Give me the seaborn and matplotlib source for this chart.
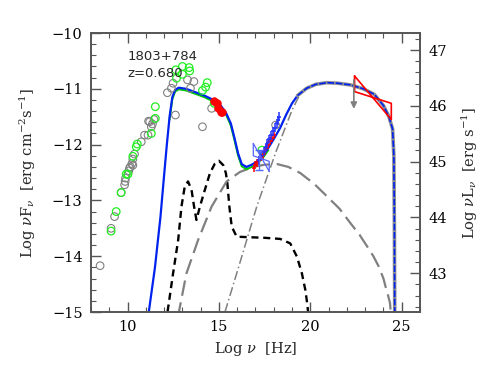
import numpy as np
import matplotlib
matplotlib.use("Agg")
import matplotlib.pyplot as plt
from matplotlib.ticker import MultipleLocator
import seaborn as sns

##### DATA
# total model (blue)
tot_x = [11.12, 11.5, 11.8, 12.0, 12.15, 12.3, 12.45, 12.6, 12.8, 13.2, 13.7, 14.2, 14.7,
         15.1, 15.4, 15.65, 15.85, 16.05, 16.25, 16.5, 16.8, 17.1, 17.4, 17.7, 18.0, 18.35,
         18.7, 19.0, 19.3, 19.8, 20.3, 20.9, 21.5, 22.2, 22.9, 23.5, 24.0, 24.3, 24.5, 24.57,
         24.6, 24.62]
tot_y = [-15.1, -14.2, -13.3, -12.55, -12.0, -11.5, -11.15, -11.02, -10.98, -11.0, -11.06,
         -11.12, -11.2, -11.3, -11.44, -11.62, -11.88, -12.16, -12.35, -12.4, -12.36, -12.3,
         -12.2, -12.06, -11.9, -11.7, -11.45, -11.26, -11.12, -10.99, -10.92, -10.89, -10.9,
         -10.93, -11.0, -11.1, -11.3, -11.5, -11.72, -12.2, -13.5, -15.2]
# second model (green), just below the blue one
grn_x = [12.3, 12.45, 12.6, 12.8, 13.2, 13.7, 14.2, 14.7, 15.1, 15.4, 15.65, 15.85, 16.05,
         16.25, 16.5, 16.8, 17.1, 17.4, 17.7]
grn_y = [-11.55, -11.19, -11.05, -11.01, -11.03, -11.09, -11.15, -11.23, -11.33, -11.47,
         -11.66, -11.92, -12.2, -12.39, -12.44, -12.4, -12.34, -12.24, -12.1]
# external Compton (grey dash-dot)
ec_x = [15.33, 15.97, 16.52, 17.07, 17.71, 18.13, 18.6, 19.0, 19.4]
ec_y = [-15.0, -14.31, -13.71, -13.11, -12.51, -12.12, -11.72, -11.38, -11.12]
# disk + torus + corona (black short dash)
dsk_x = [12.1, 12.49, 12.77, 12.95, 13.13, 13.31, 13.5, 13.64, 13.77, 13.96, 14.23, 14.51,
         14.78, 15.0, 15.24, 15.38, 15.46, 15.57, 15.7, 15.97, 16.7, 17.5, 18.35, 18.9, 19.27,
         19.54, 19.73, 19.85, 19.92]
dsk_y = [-15.2, -14.31, -13.71, -13.11, -12.75, -12.66, -12.81, -13.11, -13.35, -13.11, -12.81,
         -12.51, -12.34, -12.29, -12.37, -12.51, -12.69, -13.11, -13.47, -13.65, -13.66, -13.67,
         -13.69, -13.77, -14.01, -14.31, -14.61, -14.9, -15.2]
# SSC (grey long dash)
ssc_x = [12.75, 13.22, 13.86, 14.6, 15.42, 16.15, 16.88, 17.5, 18.2, 18.8, 19.45, 20.2, 20.92,
         21.6, 22.2, 22.7, 23.12, 23.45, 23.75, 24.0, 24.12, 24.25, 24.36, 24.42]
ssc_y = [-15.1, -14.31, -13.71, -13.11, -12.66, -12.49, -12.4, -12.36, -12.35, -12.4, -12.51,
         -12.7, -12.93, -13.15, -13.41, -13.62, -13.83, -14.0, -14.19, -14.4, -14.55, -14.7,
         -14.84, -15.1]

# archival data (grey open circles)
arc_x = [8.5, 9.1, 9.29, 9.65, 9.84, 9.87, 9.89, 10.07, 10.11, 10.15, 10.24, 10.29, 10.29,
         10.38, 10.75, 10.93, 11.12, 11.15, 11.21, 11.3, 11.36, 11.45, 12.18, 12.4, 12.49,
         12.62, 13.28, 13.44, 13.63, 14.1, 14.6, 18.1]
arc_y = [-14.17, -13.5, -13.29, -12.86, -12.72, -12.66, -12.6, -12.47, -12.42, -12.4, -12.34,
         -12.37, -12.26, -12.17, -11.95, -11.83, -11.83, -11.58, -11.59, -11.68, -11.63, -11.55,
         -11.07, -10.99, -10.9, -11.47, -10.84, -10.99, -10.87, -11.68, -11.35, -11.65]
# green open circles
gc_x = [9.1, 9.38, 9.65, 9.93, 10.02, 10.29, 10.48, 10.53, 11.3, 11.52, 11.52, 12.64, 12.68,
        13.0, 13.0, 13.37, 13.4, 14.1, 14.27, 14.36, 14.74, 17.35]
gc_y = [-13.55, -13.2, -12.86, -12.53, -12.53, -12.21, -12.04, -11.99, -11.8, -11.53, -11.32,
        -10.66, -10.81, -10.6, -10.74, -10.62, -10.68, -11.03, -10.97, -10.89, -11.26, -12.1]
# optical-UV (red filled)
opt_x = [14.74, 14.87, 14.96, 15.09, 15.15]
opt_y = [-11.21, -11.26, -11.35, -11.41, -11.42]
# X-ray spectra
xr_red_x = [16.9, 17.0, 17.1, 17.2, 17.3, 17.4, 17.5, 17.6, 17.7, 17.8, 17.9, 18.0]
xr_red_y = [-12.42, -12.37, -12.33, -12.28, -12.23, -12.18, -12.12, -12.06, -12.0, -11.94,
            -11.88, -11.83]
xr_blu_x = [17.2, 17.3, 17.45, 17.55, 17.65, 17.75, 17.85, 17.95, 18.05, 18.15, 18.25, 18.3]
xr_blu_y = [-12.28, -12.2, -12.13, -12.05, -11.98, -11.9, -11.83, -11.76, -11.7, -11.62,
            -11.56, -11.5]
# X-ray bowtie (blue) and gamma-ray bowtie (red)
xbow_x = [16.88, 17.75, 17.75, 16.88, 16.88]
xbow_y = [-11.98, -12.48, -12.3, -12.2, -11.98]
xbar_x = [17.21]
xbar_y = [-12.28]
gbow_x = [22.42, 24.43, 24.43, 22.42, 22.42]
gbow_y = [-10.77, -11.55, -11.26, -11.05, -10.77]
# upper limit arrow
ul_x = 22.38
ul_top = -10.84
ul_bot = -11.36

source_name = "1803+784"
redshift = "z=0.680"

##### PLOT
sns.set_style("ticks")
plt.rcParams["font.family"] = ["DejaVu Serif", "DejaVu Sans"]
plt.rcParams["mathtext.fontset"] = "dejavuserif"

fig = plt.figure(figsize=(4.91, 3.82), dpi=100)
ax = fig.add_axes([0.1853, 0.1832, 0.6701, 0.7304])

sns.lineplot(x=dsk_x, y=dsk_y, ax=ax, color="black", lw=1.7, sort=False,
             linestyle=(0, (3, 2)))
sns.lineplot(x=ssc_x, y=ssc_y, ax=ax, color="#808080", lw=1.6, sort=False,
             linestyle=(0, (7, 3)))
sns.lineplot(x=ec_x, y=ec_y, ax=ax, color="#808080", lw=1.1, sort=False,
             linestyle=(0, (6, 2, 1, 2)))
sns.lineplot(x=grn_x, y=grn_y, ax=ax, color="#00cc00", lw=1.4, sort=False)

tx = np.array(tot_x)
ty = np.array(tot_y)
low = tx <= 19.3
high = tx >= 19.3
sns.lineplot(x=tx[low], y=ty[low], ax=ax, color="#0022ee", lw=1.6, sort=False)
sns.lineplot(x=tx[high], y=ty[high], ax=ax, color="#909090", lw=2.6, sort=False)
sns.lineplot(x=tx[high], y=ty[high], ax=ax, color="#0022ee", lw=1.2, sort=False,
             linestyle=(0, (4, 1)))

sns.scatterplot(x=arc_x, y=arc_y, ax=ax, marker="o", s=30, facecolor="none",
                edgecolor="#808080", linewidth=0.8, zorder=3)
sns.scatterplot(x=gc_x, y=gc_y, ax=ax, marker="o", s=30, facecolor="none",
                edgecolor="#22ee22", linewidth=0.9, zorder=3)
sns.scatterplot(x=opt_x, y=opt_y, ax=ax, marker="o", s=30, color="red",
                edgecolor="red", linewidth=0.5, zorder=4)

ax.errorbar(xr_red_x, xr_red_y, xerr=0.1, yerr=0.07, fmt="none", ecolor="red",
            elinewidth=1.1, zorder=4)
ax.errorbar(xr_blu_x, xr_blu_y, xerr=0.1, yerr=0.08, fmt="none", ecolor="#2233ff",
            elinewidth=1.1, zorder=4)
ax.plot(xbow_x, xbow_y, color="#5566ff", lw=0.9, zorder=4)
ax.errorbar(xbar_x, xbar_y, yerr=0.18, fmt="none", ecolor="#5566ff", elinewidth=0.9,
            capsize=3, zorder=4)
ax.plot(gbow_x, gbow_y, color="red", lw=1.2, zorder=5)
ax.annotate("", xy=(ul_x, ul_bot), xytext=(ul_x, ul_top),
            arrowprops=dict(arrowstyle="-|>", color="#808080", lw=1.2,
                            mutation_scale=9, shrinkA=0, shrinkB=0), zorder=5)

ax.text(10.0, -10.43, source_name, fontsize=9.5, family="DejaVu Sans", va="center")
ax.text(10.0, -10.73, redshift, fontsize=9.5, family="DejaVu Sans", va="center")

ax.set_xlim(8, 26)
ax.set_ylim(-15, -10)
ax.xaxis.set_major_locator(MultipleLocator(5))
ax.xaxis.set_minor_locator(MultipleLocator(1))
ax.yaxis.set_major_locator(MultipleLocator(1))
ax.yaxis.set_minor_locator(MultipleLocator(0.2))
ax.tick_params(which="both", direction="in", top=True, right=False, colors="#555555",
               labelcolor="black", labelsize=10.5)
ax.tick_params(which="major", length=7, width=1.0, pad=6)
ax.tick_params(which="minor", length=3.5, width=0.8)
ax.set_xlabel(r"Log $\nu$  [Hz]", fontsize=10.5, labelpad=4)
ax.set_ylabel(r"Log $\nu$F$_\nu$  [erg cm$^{-2}$s$^{-1}$]", fontsize=10.5, labelpad=10)

ax2 = ax.twinx()
ax2.set_ylim(42.305, 47.305)
ax2.yaxis.set_major_locator(MultipleLocator(1))
ax2.yaxis.set_minor_locator(MultipleLocator(0.2))
ax2.tick_params(which="both", direction="in", colors="#555555", labelcolor="black",
                labelsize=10.5)
ax2.tick_params(which="major", length=7, width=1.0, pad=6)
ax2.tick_params(which="minor", length=3.5, width=0.8)
ax2.set_ylabel(r"Log $\nu$L$_\nu$  [erg s$^{-1}$]", fontsize=10.5, labelpad=9)

for a in (ax, ax2):
    for sp in a.spines.values():
        sp.set_color("#555555")
        sp.set_linewidth(1.2)

fig.savefig("out.png", dpi=100)
